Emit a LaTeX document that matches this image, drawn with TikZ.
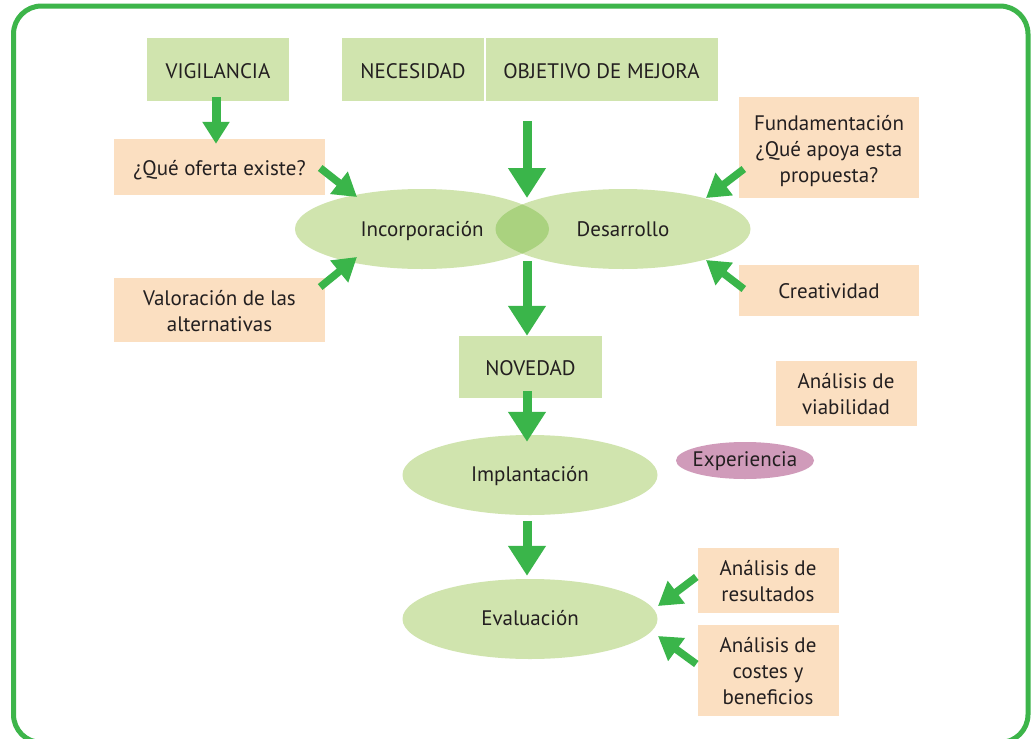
\documentclass[tikz,border=0pt]{standalone}
\usepackage{fontspec}
\setmainfont{PT Sans}
\usetikzlibrary{shapes.geometric,arrows.meta,calc}
\definecolor{framegreen}{HTML}{3DB54A}
\definecolor{arrowgreen}{HTML}{3AB54A}
\definecolor{boxgreen}{HTML}{D0E4AE}
\definecolor{overlapgreen}{HTML}{AAD27F}
\definecolor{peach}{HTML}{FBDFC1}
\definecolor{mauve}{HTML}{D09BBA}
\definecolor{ink}{HTML}{231F20}
% centred lines of text, lowered a little inside their shape
\newcommand{\lines}[2][-3.5pt]{\raisebox{#1}[\height][\depth]{\begin{tabular}{@{}c@{}}#2\end{tabular}}}
\tikzset{
  greenbox/.style={rectangle, fill=boxgreen, inner sep=0pt},
  peachbox/.style={rectangle, fill=peach, inner sep=0pt},
  stage/.style={ellipse, fill=boxgreen, inner sep=0pt, minimum width=255pt, minimum height=80pt},
  bigarrow/.style={draw=arrowgreen, line width=9pt, -{Triangle[length=30pt,width=36pt]}},
  smallarrow/.style={draw=arrowgreen, line width=9pt, -{Triangle[length=22pt,width=26pt]}},
  slantarrow/.style={draw=arrowgreen, line width=7.5pt, -{Triangle[length=23pt,width=27pt]}},
}
\begin{document}
\begin{tikzpicture}[x=1pt, y=-1pt, font=\fontsize{21}{26}\selectfont, text=ink]
\useasboundingbox (0,0) rectangle (1034,739);
\fill[white] (0,0) rectangle (1034,739);

% outer frame
\draw[framegreen, line width=5pt, rounded corners=28pt] (13.5,6) rectangle (1028,742.5);

% top row
\node[greenbox, minimum width=142pt, minimum height=63pt] (vig) at (218,69.5) {\lines{VIGILANCIA}};
\node[greenbox, minimum width=142pt, minimum height=63pt] (nec) at (413,69.5) {\lines{NECESIDAD}};
\node[greenbox, minimum width=232pt, minimum height=63pt] (obj) at (601.5,69.5) {\lines{OBJETIVO DE MEJORA}};

% side boxes
\node[peachbox, minimum width=211pt, minimum height=56pt] (que) at (219.5,167) {\lines{¿Qué oferta existe?}};
\node[peachbox, minimum width=211pt, minimum height=64pt] (val) at (219.5,310) {\lines{Valoración de las\\alternativas}};
\node[peachbox, minimum width=180pt, minimum height=101pt] (fund) at (829,147.5) {\lines{Fundamentación\\¿Qué apoya esta\\propuesta?}};
\node[peachbox, minimum width=180pt, minimum height=51pt] (crea) at (829,290.5) {\lines[-2.6pt]{Creatividad}};
\node[peachbox, minimum width=141pt, minimum height=65pt] (viab) at (846,393.5) {\lines[-2.6pt]{Análisis de\\viabilidad}};
\node[peachbox, minimum width=141pt, minimum height=65pt] (res) at (768,580.5) {\lines[-2.6pt]{Análisis de\\resultados}};
\node[peachbox, minimum width=141pt, minimum height=91pt] (cost) at (768,670.5) {\lines[-2.6pt]{Análisis de\\costes y\\beneficios}};

% process stages
\node[stage, minimum width=254pt] (inc) at (422,229) {\lines[-2.5pt]{Incorporación}};
\node[stage] (des) at (623,229) {\lines[-2pt]{Desarrollo}};
\begin{scope}
  \clip (inc.center) ellipse [x radius=127, y radius=40];
  \fill[overlapgreen] (des.center) ellipse [x radius=127.5, y radius=40];
\end{scope}
\coordinate (meet) at ($(inc.center)!0.5!(des.center)$);

\node[greenbox, minimum width=143pt, minimum height=62pt] (nov) at (530.5,367) {\lines{NOVEDAD}};
\node[stage] (imp) at (530,475) {\lines[-1.5pt]{Implantación}};
\node[stage] (eval) at (530,619) {\lines[-1.5pt]{Evaluación}};
\node[ellipse, fill=mauve, inner xsep=-4pt, inner ysep=0pt, minimum width=138pt, minimum height=37pt] (exp) at (745,460.5) {\lines[-1pt]{Experiencia}};

% main flow
\draw[smallarrow] ($(vig.south)+(-2,-4)$) -- ($(que.north)+(-3.5,5)$);
\draw[bigarrow] ($(obj.south -| meet)+(4.5,20)$) -- ($(meet)+(4.5,-31)$);
\draw[bigarrow] ($(meet)+(4.5,32)$) -- ($(nov.north)+(-3.5,0)$);
\draw[bigarrow] ($(nov.south)+(-3.5,-7)$) -- ($(imp.north)+(-3,7)$);
\draw[bigarrow] ($(imp.south)+(-3,6)$) -- ($(eval.north)+(-3,-3)$);

% inputs to the stages
\draw[slantarrow] ($(que.east)+(-5,1)$) -- ($(inc.center)+(-65,-32)$);
\draw[slantarrow] ($(val.east)+(-5,-23)$) -- ($(inc.center)+(-65,28)$);
\draw[slantarrow] ($(fund.west)+(5,21.5)$) -- ($(des.center)+(83,-31)$);
\draw[slantarrow] ($(crea.west)+(5,-1.5)$) -- ($(des.center)+(83,31)$);
\draw[slantarrow] ($(res.west)+(-1,-3.5)$) -- ($(eval.center)+(128,-13)$);
\draw[slantarrow] ($(cost.west)+(-1,-6.5)$) -- ($(eval.center)+(128,17)$);
\end{tikzpicture}
\end{document}
